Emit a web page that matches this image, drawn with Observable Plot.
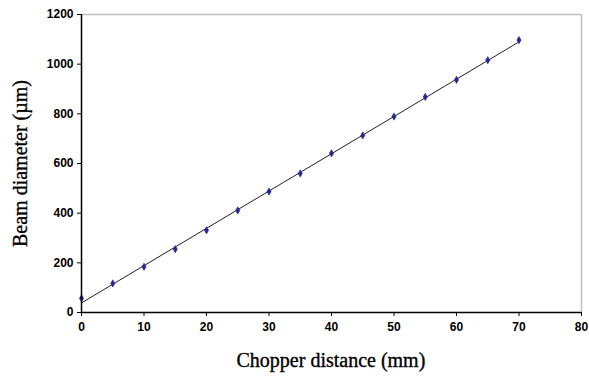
<!DOCTYPE html>
<html>
<head>
<meta charset="utf-8">
<script src="https://cdn.jsdelivr.net/npm/d3@7"></script>
<script src="https://cdn.jsdelivr.net/npm/@observablehq/plot@0.6"></script>
<style>
  body { margin: 0; background: #fff; }
  #chart { position: relative; width: 589px; height: 376px; }
  .ylab, .xlab { position: absolute; font-family: "Liberation Serif", "Times New Roman", serif; font-size: 20px; color: #000; -webkit-text-stroke: 0.35px #000; white-space: nowrap; }
</style>
</head>
<body>
<div id="chart"></div>
<script>
const distance = [0, 5, 10, 15, 20, 25, 30, 35, 40, 45, 50, 55, 60, 65, 70];
const diameter = [57, 117, 184, 255, 331, 411, 487, 560, 641, 713, 789, 868, 937, 1016, 1097];
const xTicks = [0, 10, 20, 30, 40, 50, 60, 70, 80];
const yTicks = [0, 200, 400, 600, 800, 1000, 1200];

const data = distance.map((d, i) => ({x: d, y: diameter[i]}));

const plot = Plot.plot({
  width: 589,
  height: 376,
  marginLeft: 81,
  marginRight: 8,
  marginTop: 14,
  marginBottom: 64,
  style: {fontFamily: "'Liberation Sans', Arial, sans-serif", fontSize: "12px", fontWeight: "bold", background: "#fff"},
  x: {domain: [0, 80], ticks: xTicks, label: null},
  y: {domain: [0, 1200], ticks: yTicks, label: null},
  marks: [
    Plot.ruleY([1200], {stroke: "#c0c0c0", strokeWidth: 1.5}),
    Plot.ruleX([80], {stroke: "#c0c0c0", strokeWidth: 1.5}),
    Plot.linearRegressionY(data, {x: "x", y: "y", ci: 0, stroke: "#222", strokeWidth: 1}),
    Plot.dot(data, {x: "x", y: "y", symbol: "diamond", r: 2.2, fill: "#262691", stroke: "#262691", strokeWidth: 0.6}),
    Plot.axisX({ticks: xTicks, tickFormat: d3.format("d"), tickSize: 4, tickPadding: 6, stroke: "#000", fill: "#000", fontSize: 12, fontWeight: "bold", label: null}),
    Plot.axisY({ticks: yTicks, tickFormat: d3.format("d"), tickSize: 4, tickPadding: 4, stroke: "#000", fill: "#000", fontSize: 12, fontWeight: "bold", label: null}),
    Plot.ruleY([0], {stroke: "#000", strokeWidth: 1.5}),
    Plot.ruleX([0], {stroke: "#000", strokeWidth: 1.5})
  ]
});
const chart = document.getElementById("chart");
chart.appendChild(plot);

const ylab = document.createElement("div");
ylab.className = "ylab";
ylab.textContent = "Beam diameter (µm)";
chart.appendChild(ylab);
const w = ylab.offsetWidth, h = ylab.offsetHeight;
ylab.style.left = (20 - w / 2) + "px";
ylab.style.top = (163 - h / 2) + "px";
ylab.style.transform = "rotate(-90deg)";

const xlab = document.createElement("div");
xlab.className = "xlab";
xlab.textContent = "Chopper distance (mm)";
chart.appendChild(xlab);
xlab.style.left = (331 - xlab.offsetWidth / 2) + "px";
xlab.style.top = (360 - xlab.offsetHeight / 2) + "px";
</script>
</body>
</html>
